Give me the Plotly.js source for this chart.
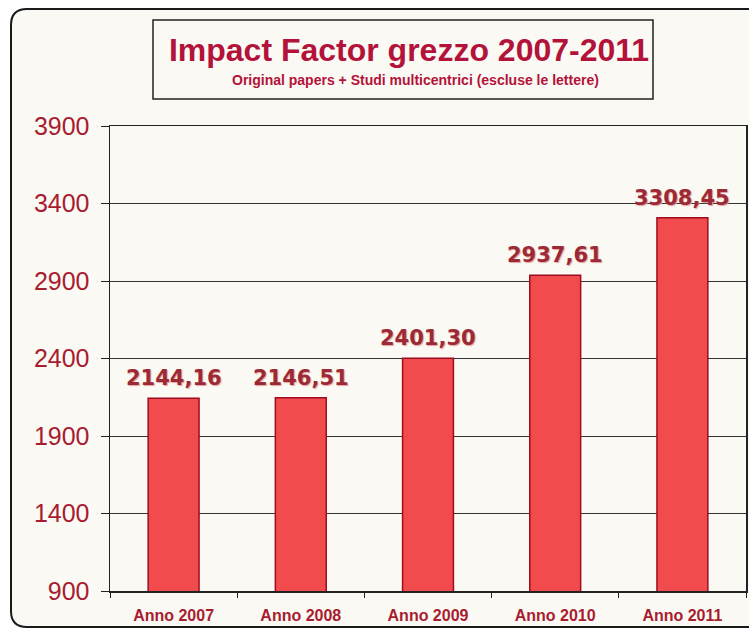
<!DOCTYPE html>
<html>
<head>
<meta charset="utf-8">
<script src="https://cdn.plot.ly/plotly-3.0.1.min.js"></script>
<style>
html,body{margin:0;padding:0;background:#ffffff;}
#chart{width:749px;height:629px;}
</style>
</head>
<body>
<div id="chart"></div>
<script>
var categories = ["Anno 2007", "Anno 2008", "Anno 2009", "Anno 2010", "Anno 2011"];
var impactValues = [2144.16, 2146.51, 2401.30, 2937.61, 3308.45];
var yTickValues = [900, 1400, 1900, 2400, 2900, 3400, 3900];
var titleText = "Impact Factor grezzo 2007-2011";
var subtitleText = "Original papers + Studi multicentrici (escluse le lettere)";

var W = 749, H = 629;
var M = {l: 110, r: 3, t: 126, b: 38};
var PW = W - M.l - M.r, PH = H - M.t - M.b;
function px(x) { return (x - M.l) / PW; }
function py(y) { return (H - M.b - y) / PH; }

// rounded outer frame path in paper coords
function roundRect(x0, y0, x1, y1, r) {
  var p = [];
  p.push('M', px(x0 + r), py(y0));
  p.push('L', px(x1 - r), py(y0));
  p.push('Q', px(x1), py(y0), px(x1), py(y0 + r));
  p.push('L', px(x1), py(y1 - r));
  p.push('Q', px(x1), py(y1), px(x1 - r), py(y1));
  p.push('L', px(x0 + r), py(y1));
  p.push('Q', px(x0), py(y1), px(x0), py(y1 - r));
  p.push('L', px(x0), py(y0 + r));
  p.push('Q', px(x0), py(y0), px(x0 + r), py(y0));
  p.push('Z');
  return p.join(' ');
}

var darkRed = '#a81c30';

var trace = {
  type: 'bar',
  x: categories,
  y: impactValues,
  width: 0.4,
  marker: {color: '#f24b4d', line: {color: '#9e0c20', width: 1.5}},
  cliponaxis: false,
  hoverinfo: 'x+y'
};

var labelFont = {family: 'DejaVu Sans', size: 21, weight: 'bold', color: '#9c2a36', shadow: '1px 1px 1px #e0a0a0'};
var valueLabels = categories.map(function (c, i) {
  return {
    xref: 'x', yref: 'y', x: c, y: impactValues[i],
    text: impactValues[i].toFixed(2).replace('.', ','),
    xanchor: 'center', yanchor: 'bottom', yshift: 6,
    showarrow: false, font: labelFont
  };
});

var layout = {
  width: W, height: H,
  margin: M,
  separators: ',.',
  paper_bgcolor: '#ffffff',
  plot_bgcolor: '#ffffff',
  showlegend: false,
  bargap: 0.6,
  title: {
    text: titleText,
    font: {family: 'Liberation Sans, Arial, sans-serif', size: 32, weight: 'bold', color: '#b3123a'},
    xref: 'paper', x: px(409), xanchor: 'center',
    yref: 'container', y: 1 - 50 / H, yanchor: 'middle'
  },
  xaxis: {
    type: 'category',
    showgrid: false,
    showline: true, linecolor: '#222222', linewidth: 1.5, mirror: true,
    ticks: 'outside', tickson: 'boundaries', ticklen: 5, tickcolor: '#222222',
    tickfont: {family: 'Liberation Sans, Arial, sans-serif', size: 16, weight: 'bold', color: darkRed},
    ticklabelstandoff: 9,
    fixedrange: true
  },
  yaxis: {
    range: [900, 3900],
    tickvals: yTickValues,
    ticktext: yTickValues.map(String),
    showgrid: true, gridcolor: '#333333', gridwidth: 1,
    zeroline: false,
    showline: true, linecolor: '#222222', linewidth: 1.5, mirror: true,
    ticks: 'outside', ticklen: 8, tickcolor: '#222222',
    tickfont: {family: 'Liberation Sans, Arial, sans-serif', size: 25, color: darkRed},
    ticklabelstandoff: 6,
    fixedrange: true
  },
  shapes: [
    {type: 'path', xref: 'paper', yref: 'paper', layer: 'below',
     path: roundRect(11, 9, 770, 627, 16),
     fillcolor: '#faf9f3', line: {color: '#1a1a1a', width: 2}},
    {type: 'rect', xref: 'paper', yref: 'paper', layer: 'above',
     x0: px(153), x1: px(653), y0: py(20), y1: py(99),
     fillcolor: 'rgba(0,0,0,0)', line: {color: '#222222', width: 1.5}}
  ],
  annotations: [
    {text: subtitleText, xref: 'paper', yref: 'paper', x: px(415), y: py(80),
     xanchor: 'center', yanchor: 'middle', showarrow: false,
     font: {family: 'Liberation Sans, Arial, sans-serif', size: 14, weight: 'bold', color: '#b3123a'}}
  ].concat(valueLabels)
};

Plotly.newPlot('chart', [trace], layout, {displayModeBar: false, staticPlot: true});
</script>
</body>
</html>
